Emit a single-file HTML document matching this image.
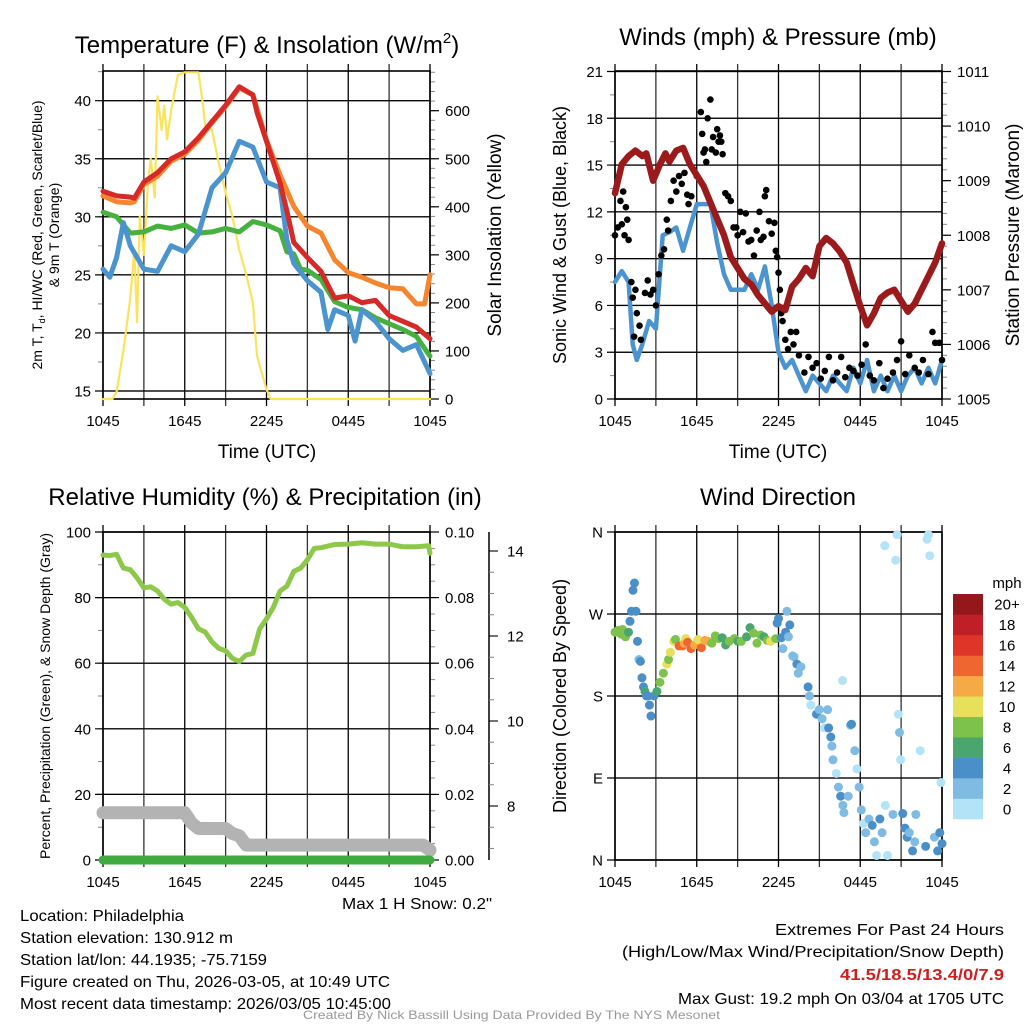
<!DOCTYPE html>
<html><head><meta charset="utf-8"><title>Station Meteogram</title>
<style>
html,body{margin:0;padding:0;background:#fff;}
svg{display:block;font-family:"Liberation Sans",Arial,sans-serif;}
</style></head>
<body>
<svg id="chart" width="1024" height="1024" viewBox="0 0 1024 1024" xmlns="http://www.w3.org/2000/svg">
<rect x="0" y="0" width="1024" height="1024" fill="#fff"/>
<g id="layer"></g>
<g font-size="24" fill="#000" text-anchor="middle">
<text x="267" y="53">Temperature (F) &amp; Insolation (W/m<tspan font-size="15" dy="-10">2</tspan><tspan dy="10">)</tspan></text>
<text x="778" y="45">Winds (mph) &amp; Pressure (mb)</text>
<text x="265" y="505">Relative Humidity (%) &amp; Precipitation (in)</text>
<text x="778" y="505">Wind Direction</text>
</g>
<g font-size="19" fill="#000" text-anchor="middle">
<text x="267" y="458">Time (UTC)</text>
<text x="778" y="458">Time (UTC)</text>
<text transform="translate(501,235) rotate(-90)">Solar Insolation (Yellow)</text>
<text transform="translate(1019,235) rotate(-90)">Station Pressure (Maroon)</text>
<text font-size="18" transform="translate(566,235) rotate(-90)">Sonic Wind &amp; Gust (Blue, Black)</text>
<text font-size="18" transform="translate(566,696) rotate(-90)">Direction (Colored By Speed)</text>
<text font-size="14" transform="translate(42,235) rotate(-90)">2m T, T<tspan font-size="9" dy="3">d</tspan><tspan dy="-3">, HI/WC (Red, Green, Scarlet/Blue)</tspan></text>
<text font-size="14" transform="translate(59,235) rotate(-90)">&amp; 9m T (Orange)</text>
<text font-size="14" transform="translate(50,696) rotate(-90)">Percent, Precipitation (Green), &amp; Snow Depth (Gray)</text>
</g>
<g font-size="16" fill="#000">
<text x="342" y="909" textLength="150" lengthAdjust="spacingAndGlyphs">Max 1 H Snow: 0.2"</text>
<text x="20" y="921" textLength="164" lengthAdjust="spacingAndGlyphs">Location: Philadelphia</text>
<text x="20" y="943" textLength="213" lengthAdjust="spacingAndGlyphs">Station elevation: 130.912 m</text>
<text x="20" y="965" textLength="247" lengthAdjust="spacingAndGlyphs">Station lat/lon: 44.1935; -75.7159</text>
<text x="20" y="987" textLength="370" lengthAdjust="spacingAndGlyphs">Figure created on Thu, 2026-03-05, at 10:49 UTC</text>
<text x="20" y="1009" textLength="371" lengthAdjust="spacingAndGlyphs">Most recent data timestamp: 2026/03/05 10:45:00</text>
<text x="775" y="935" textLength="229" lengthAdjust="spacingAndGlyphs">Extremes For Past 24 Hours</text>
<text x="622" y="957" textLength="382" lengthAdjust="spacingAndGlyphs">(High/Low/Max Wind/Precipitation/Snow Depth)</text>
<text x="840" y="980" fill="#cc2020" font-weight="bold" textLength="164" lengthAdjust="spacingAndGlyphs">41.5/18.5/13.4/0/7.9</text>
<text x="678" y="1004" textLength="326" lengthAdjust="spacingAndGlyphs">Max Gust: 19.2 mph On 03/04 at 1705 UTC</text>
<text x="303" y="1019" font-size="12" fill="#999" textLength="417" lengthAdjust="spacingAndGlyphs">Created By Nick Bassill Using Data Provided By The NYS Mesonet</text>
</g>
</svg>
<script>
// ---------- data ----------
const xTickLabels = ["1045","1645","2245","0445","1045"];
const tempHours = [0,1,2,2.3,3,4,5,6,7,8,9,10,11,11.3,12,13,13.5,14,15,16,17,18,19,20,21,22,23,24];
const tempRed =   [32.2,31.8,31.7,31.6,33.0,33.8,35.0,35.6,36.8,38.2,39.6,41.2,40.5,39.0,36.5,32.9,30.5,27.8,26.5,25.3,23.0,23.2,22.6,22.8,21.5,21.0,20.5,19.5];
const orangeHours = [0,1,2,2.3,3,4,5,6,7,8,9,10,11,12,13,14,15,16,17,18,19,20,21,22,23,23.6,24];
const tempOrange = [31.8,31.3,31.2,31.3,32.8,33.5,34.8,35.4,36.6,38.1,39.5,41.1,40.5,36.6,33.6,30.9,29.2,28.6,26.3,25.2,24.8,24.3,23.9,23.8,22.5,22.5,25.0];
const dewHours = [0,1,2,3,4,5,6,7,8,9,10,11,12,13,13.5,14,14.5,15,16,17,18,19,20,21,22,23,24];
const tempDew = [30.4,30.0,28.6,28.7,29.2,29.0,29.3,28.6,28.7,29.0,28.7,29.6,29.3,28.8,27.0,26.8,25.5,25.4,24.6,22.7,22.2,22.0,21.3,20.8,20.3,19.7,18.0];
const wcHours = [0,0.5,1,1.5,2,2.5,3,4,5,6,7,8,9,10,11,11.5,12,13,13.5,14,15,16,16.5,17,18,18.5,19,20,21,22,23,24];
const tempWC = [25.5,24.8,26.5,29.5,27.5,26.5,25.5,25.3,27.5,27.0,28.5,32.5,33.8,36.5,36.0,34.5,33.0,32.5,28.0,26.0,24.5,23.5,20.3,22.0,21.5,19.3,22.0,21.0,19.5,18.5,19.0,16.5];
const solarHours = [0,0.7,1,1.5,2,2.3,2.5,2.7,3,3.3,3.5,3.8,4,4.3,4.5,4.7,5,5.5,6,7,7.3,7.5,8,8.5,9,9.5,10,10.5,11,11.3,11.6,12,12.3,24];
const solarVals = [0,0,15,100,210,310,160,380,300,450,500,420,630,560,610,540,600,675,680,680,620,570,560,490,430,380,310,260,200,90,60,20,0,0];

const windHours = [0,0.5,1,1.3,1.6,2,2.5,3,3.5,4,4.5,5,5.5,6,6.5,7,7.5,8,8.5,9,9.5,10,10.5,11,11.5,12,12.5,13,13.5,14,14.5,15,15.5,16,16.5,17,17.5,18,18.5,19,19.5,20,20.5,21,21.5,22,22.5,23,23.5,24];
const windSpeed = [7.5,8.2,7.5,3.5,2.5,3.5,5,4.5,10.5,10.7,11,9.5,11,12.5,12.5,12.5,10,8,7,7,7,8,7,8.5,6,3,2,2.5,1.5,0.5,1.5,1,0.5,1.5,1,0.5,2,1,2.5,0.5,1.5,0.5,1.5,0.5,1.5,2,1,2,1,2.5];
const gustHours = [0,0.2,0.4,0.5,0.6,0.7,0.8,0.9,1.0,1.2,1.3,1.4,1.5,1.6,1.8,1.9,2.2,2.4,2.6,2.8,3,3.2,3.4,3.6,3.8,3.9,4.1,4.3,4.5,4.7,4.9,5.1,5.3,5.4,5.6,5.8,6.0,6.3,6.4,6.5,6.6,6.7,6.8,7.0,7.1,7.2,7.4,7.5,7.6,7.7,7.8,7.9,8.1,8.3,8.5,8.7,8.9,9.0,9.2,9.4,9.6,9.8,10.0,10.2,10.4,10.6,10.7,10.9,11.0,11.1,11.3,11.5,11.7,11.8,11.9,12.0,12.1,12.2,12.3,12.5,12.7,12.9,13.1,13.3,13.5,13.9,14.2,14.5,14.8,15.1,15.4,15.7,16.0,16.3,16.6,16.9,17.2,17.5,17.8,18.1,18.4,18.7,19.0,19.4,19.7,20.0,20.4,20.7,21.0,21.3,21.6,22.0,22.3,22.6,23.0,23.3,23.5,23.8,24];
const gustSpeed = [10.5,11,12.7,11.2,13.3,10.5,12.3,11.5,10.2,7.5,6.5,4,7,5.5,4.7,3.8,6.8,7.6,6.7,7,6,8,9.2,9.6,11.5,10.8,12.7,14,13.3,14.3,13.8,14.5,13.1,12.5,13,14.7,14.3,18.4,17,15.8,16,15.2,18,19.2,16,16.8,15.8,17.3,16.5,16.9,16.5,15.7,13.2,13,12.7,11,11,10.5,12,10.7,11.9,10.1,10.2,9.2,10.8,12,10.2,10.4,13,13.4,11.4,10.6,11.3,9.5,9.1,8.1,7,5.5,5,3.8,3.2,4.3,3.5,4.3,2.8,1.7,2.7,2,2.3,1.3,1.8,2.7,1.2,1.7,2.7,1.4,2.0,1.8,1.5,2.2,3.5,1.5,1.2,2.3,0.7,1.3,1.7,2.5,3.7,1.6,2.8,2,1.7,2.5,1.6,4.3,3.6,3.6,2.5];
const presHours = [0,0.5,1,1.5,2,2.3,2.8,3.3,3.7,4,4.5,5,5.5,6,6.5,7,7.5,8,8.5,9,9.5,10,10.5,11,11.5,12,12.5,13,13.5,14,14.5,15,15.5,16,16.5,17,17.5,18,18.5,19,19.5,20,20.5,21,21.5,22,22.5,23,23.5,24];
const presVals = [1008.77,1009.3,1009.45,1009.55,1009.45,1009.5,1009.0,1009.3,1009.5,1009.35,1009.55,1009.6,1009.3,1009.1,1008.9,1008.6,1008.3,1008.0,1007.6,1007.4,1007.2,1007.1,1006.9,1006.75,1006.6,1006.7,1006.63,1007.06,1007.2,1007.4,1007.25,1007.8,1007.95,1007.85,1007.7,1007.5,1007.1,1006.7,1006.35,1006.57,1006.85,1006.95,1007.0,1006.8,1006.6,1006.75,1007.0,1007.25,1007.5,1007.85];

const rhHours = [0,0.5,1,1.5,2,2.5,3,3.5,4,4.5,5,5.5,6,6.5,7,7.5,8,8.5,9,9.5,10,10.5,11,11.5,12,12.5,13,13.5,14,14.5,15,15.5,16,17,18,19,20,21,22,23,23.9,24];
const rhVals = [93,92.8,93.2,89,88.5,86,83,83.3,82,79.5,78,78.5,77,74,70.5,69.5,66.5,64.5,63.8,61.5,60.5,62.5,63,70.5,73.5,77,82,83.5,88,89,91.5,95,95.2,96.2,96.3,96.7,96.3,96.3,95.5,95.5,95.8,93.5];
const snowHours = [0,6,6.5,7,9,9.5,10,10.5,23.5,24];
const snowVals = [7.84,7.84,7.6,7.47,7.47,7.35,7.3,7.08,7.08,6.96];
const precipHours = [0,24];
const precipVals = [0,0];

const dirHours = [0,0.22,0.44,0.55,0.77,0.99,1.1,1.21,1.32,1.43,1.54,1.65,1.76,1.87,1.98,2.09,2.2,2.31,2.42,2.53,2.64,2.86,3.08,3.3,3.55,3.81,3.93,4.06,4.31,4.44,4.7,4.95,5.08,5.2,5.33,5.58,5.84,6.09,6.34,6.6,6.85,7.11,7.36,7.61,7.87,8.12,8.38,8.76,9.02,9.27,9.66,9.91,10.17,10.42,10.67,10.93,11.18,11.42,11.8,11.9,12.0,12.21,12.32,12.52,12.62,12.73,12.83,13.04,13.14,13.35,13.45,13.65,14.17,14.27,14.37,14.79,14.99,15.2,15.36,15.6,15.68,15.84,15.92,16.0,16.24,16.4,16.56,16.72,16.8,17.12,16.7,17.28,17.36,17.6,17.76,17.92,18.08,18.24,18.4,18.64,18.88,19.04,19.2,19.44,19.6,19.84,20.0,20.4,20.8,20.88,20.96,21.12,21.28,21.44,21.6,21.84,22.0,22.4,22.08,22.8,23.44,23.68,23.84,24,23.92,19.8,20.7,20.6,23.0,23.1,22.9];
const dirDeg = [250,252,248,253,245,250,262,273,296,304,273,240,220,218,200,190,185,180,180,170,158,180,185,195,205,215,220,228,240,242,235,235,238,243,239,232,236,242,233,241,240,238,246,243,244,236,240,243,240,240,245,255,249,238,247,245,241,240,243,260,265,244,232,250,273,245,258,224,223,215,205,212,190,180,170,160,165,155,145,165,145,135,125,110,95,80,70,60,52,70,197,148,149,120,100,80,55,40,30,45,38,20,5,45,30,60,5,50,160,140,110,51,35,25,30,10,20,120,50,15,25,10,30,18,85,345,357,329,357,334,352];
const dirSpeed = [7,7,8,7,8,5,4,3,4,4,3,3,2,3,4,4,6,4,4,4,4,4,6,8,8,10,8,10,9,8,14,13,12,9,14,14,12,10,13,12,11,8,7,7,6,6,8,7,6,8,6,6,7,8,8,6,8,10,8,4,4,3,2,3,2,2,3,2,2,4,2,1,4,2,0,4,1,2,0,2,4,4,1,2,0,2,4,1,1,2,0,2,4,1,0,2,1,0,2,1,3,1,0,4,1,0,0,2,0,1,0,3,3,4,2,3,1,0,2,3,1,3,4,3,0,0,0,0,0,0,0];
const cbarLabels = ["0","2","4","6","8","10","12","14","16","18","20+"];
const cbarColors = ["#b3e3f7","#80bbe4","#4a8fc7","#4aa56e","#7cc24b","#e6e05a","#f6aa45","#ef6631","#dd3528","#bf1f26","#94171b"];

// ---------- helpers ----------
const NS = "http://www.w3.org/2000/svg";
const layer = document.getElementById('layer');
function mk(tag, attrs, parent) {
  const el = document.createElementNS(NS, tag);
  for (const k in attrs) el.setAttribute(k, attrs[k]);
  (parent || layer).appendChild(el);
  return el;
}
function linScale(d0, d1, r0, r1) { return v => r0 + (v - d0) * (r1 - r0) / (d1 - d0); }
function pathFrom(xs, ys, sx, sy) {
  let d = "";
  for (let i = 0; i < xs.length; i++) d += (i ? "L" : "M") + sx(xs[i]).toFixed(1) + "," + sy(ys[i]).toFixed(1);
  return d;
}
function drawLine(xs, ys, sx, sy, color, w, name, parent) {
  const el = mk('path', {d: pathFrom(xs, ys, sx, sy), fill: 'none', stroke: color, 'stroke-width': w, 'stroke-linejoin': 'round', 'stroke-linecap': 'round'}, parent);
  
  
  return el;
}

const panels = [
  {x0:103, x1:430, y0:71, y1:399, name:'temp'},
  {x0:615, x1:942, y0:71, y1:399, name:'wind'},
  {x0:103, x1:430, y0:532, y1:860, name:'rh'},
  {x0:615, x1:942, y0:532, y1:860, name:'dir'}
];

function drawFrame(p, leftTicks, leftLabels, leftMinor, sy, gridVals, rightTicks, rightLabels, rightMinor, sry, rightX) {
  const g = mk('g', {});
  
  
  const sx = linScale(0, 24, p.x0, p.x1);
  for (let h = 0; h <= 24; h += 3) {
    const x = sx(h);
    const vl = mk('line', {x1:x, x2:x, y1:p.y0 - 7, y2:p.y1 + 7, stroke: (h % 6 === 0) ? '#000' : '#333', 'stroke-width': 1.3}, g);
    
    
  }
  for (let i = 0; i < xTickLabels.length; i++) {
    const t = mk('text', {x: sx(i * 6), y: p.y1 + 27, 'font-size': 15, 'text-anchor': 'middle'}, g);
    t.textContent = xTickLabels[i];
    
    
  }
  gridVals.forEach(v => {
    const hl = mk('line', {x1:p.x0, x2:p.x1, y1:sy(v), y2:sy(v), stroke:'#555', 'stroke-width':1.3}, g);
    
    
  });
  leftMinor.forEach(v => {
    const tl = mk('line', {x1:p.x0 - 5, x2:p.x0, y1:sy(v), y2:sy(v), stroke:'#888', 'stroke-width':1}, g);
    
    
  });
  leftTicks.forEach((v, i) => {
    const tl = mk('line', {x1:p.x0 - 8, x2:p.x1, y1:sy(v), y2:sy(v), stroke:'#000', 'stroke-width':1.2}, g);
    
    
    const t = mk('text', {x:p.x0 - 12, y:sy(v) + 5.5, 'font-size':15, 'text-anchor':'end'}, g);
    t.textContent = leftLabels[i];
    
    
  });
  if (rightTicks) {
    const rx = rightX || p.x1;
    rightMinor.forEach(v => {
      const tl = mk('line', {x1:rx, x2:rx + 5, y1:sry(v), y2:sry(v), stroke:'#888', 'stroke-width':1}, g);
      
      
    });
    rightTicks.forEach((v, i) => {
      const tl = mk('line', {x1:rx, x2:rx + 9, y1:sry(v), y2:sry(v), stroke:'#000', 'stroke-width':1.2}, g);
      
      
      const t = mk('text', {x:rx + 15, y:sry(v) + 5.5, 'font-size':15}, g);
      t.textContent = rightLabels[i];
      
      
    });
  }
  const fr = mk('rect', {x:p.x0, y:p.y0, width:p.x1 - p.x0, height:p.y1 - p.y0, fill:'none', stroke:'#000', 'stroke-width':1.6}, g);
  
  
  return sx;
}
function range(a, b, s) { const r = []; for (let v = a; v <= b + 1e-9; v += s) r.push(+v.toFixed(4)); return r; }

// ---------- Panel 1: temperature ----------
{
  const p = panels[0];
  const sy = linScale(15, 40, 391, 100.7);
  const sry = linScale(0, 600, 399, 110.7);
  const lt = range(15, 40, 5);
  const rt = range(0, 600, 100);
  const sx = drawFrame(p, lt, lt.map(String), range(15, 42.5, 2.5), sy, lt, rt, rt.map(String), range(0, 680, 20), sry);
  const g = mk('g', {});
  
  
  drawLine(solarHours, solarVals, sx, sry, '#fbe35c', 2.2, 'solar-insolation-line', g);
  drawLine(dewHours, tempDew, sx, sy, '#47b13f', 5, 'dewpoint-line', g);
  drawLine(wcHours, tempWC, sx, sy, '#4b94cd', 5, 'wind-chill-line', g);
  drawLine(orangeHours, tempOrange, sx, sy, '#f5862f', 5, 'temp-9m-line', g);
  drawLine(tempHours, tempRed, sx, sy, '#d52a27', 5, 'temp-2m-line', g);
}

// ---------- Panel 2: wind ----------
{
  const p = panels[1];
  const sy = linScale(0, 21, 399, 71.5);
  const sry = linScale(1005, 1011, 399, 71.5);
  const lt = range(0, 21, 3);
  const rt = range(1005, 1011, 1);
  const sx = drawFrame(p, lt, lt.map(String), range(0, 21, 1.5), sy, lt, rt, rt.map(String), range(1005, 1011, 0.2), sry);
  const g = mk('g', {});
  
  
  drawLine(windHours, windSpeed, sx, sy, '#4b94cf', 4.5, 'sonic-wind-line', g);
  for (let i = 0; i < gustHours.length; i++) {
    const c = mk('circle', {cx: sx(gustHours[i]), cy: sy(gustSpeed[i]), r: 3.3, fill: '#000'}, g);
    
    
  }
  drawLine(presHours, presVals, sx, sry, '#9b1b1c', 6.5, 'pressure-line', g);
}

// ---------- Panel 3: RH ----------
{
  const p = panels[2];
  const sy = linScale(0, 100, 860, 532);
  const sry = linScale(0, 0.10, 860, 532);
  const ssnow = linScale(8, 14, 806, 551);
  const lt = range(0, 100, 20);
  const rt = range(0, 0.10, 0.02);
  const sx = drawFrame(p, lt, lt.map(String), range(0, 100, 10), sy, lt, rt, rt.map(v => v.toFixed(2)), range(0, 0.1, 0.005), sry);
  const sg = mk('g', {});
  
  
  const al = mk('line', {x1:489, x2:489, y1:532, y2:860, stroke:'#000', 'stroke-width':1.5}, sg);
  
  
  range(7, 14.5, 0.5).forEach(v => {
    const y = ssnow(v);
    if (y < 532 || y > 860) return;
    const major = Math.abs(v % 2) < 1e-6;
    const tl = mk('line', {x1:489, x2:489 + (major ? 9 : 5), y1:y, y2:y, stroke: major ? '#000' : '#888', 'stroke-width':1.1}, sg);
    
    
    if (major) {
      const t = mk('text', {x:507, y:y + 5.5, 'font-size':15}, sg);
      t.textContent = String(v);
      
      
    }
  });
  const g = mk('g', {});
  
  
  drawLine(snowHours, snowVals, sx, ssnow, '#b3b3b3', 13, 'snow-depth-line', g);
  drawLine(precipHours, precipVals, sx, sry, '#3fab3f', 9, 'precipitation-line', g);
  drawLine(rhHours, rhVals, sx, sy, '#8dc84b', 5, 'relative-humidity-line', g);
}

// ---------- Panel 4: wind direction ----------
{
  const p = panels[3];
  const sy = linScale(0, 360, 860, 532);
  const lt = [0, 90, 180, 270, 360];
  const sx = drawFrame(p, lt, ["N","E","S","W","N"], [], sy, lt, null);
  const g = mk('g', {});
  
  
  for (let i = 0; i < dirHours.length; i++) {
    const idx = Math.min(10, Math.round(dirSpeed[i] / 2));
    const c = mk('circle', {cx: sx(dirHours[i]), cy: sy(dirDeg[i]), r: 4.5, fill: cbarColors[idx]}, g);
    
    
  }
  const cb = mk('g', {});
  
  
  const bh = 225 / cbarColors.length;
  for (let i = 0; i < cbarColors.length; i++) {
    const y = 819 - (i + 1) * bh;
    const r = mk('rect', {x:953, y:y, width:30, height:bh + 0.3, fill:cbarColors[i]}, cb);
    
    
    const t = mk('text', {x:1007, y:y + bh / 2 + 5.5, 'font-size':15, 'text-anchor':'middle'}, cb);
    t.textContent = cbarLabels[i];
    
    
  }
  const u = mk('text', {x:1007, y:588, 'font-size':15, 'text-anchor':'middle'}, cb);
  u.textContent = 'mph';
  
  
}
</script>
</body></html>
